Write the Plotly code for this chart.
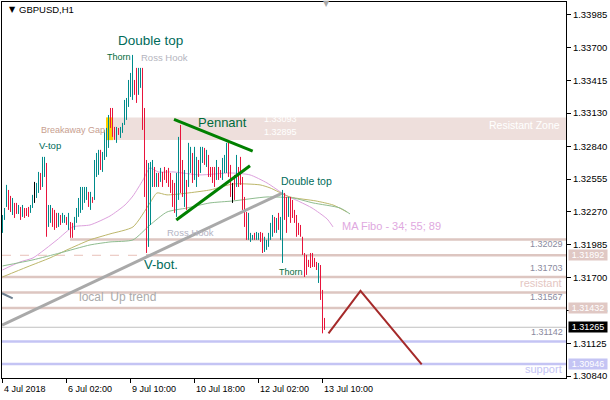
import plotly.graph_objects as go

# ---------------- data ----------------
high = [1.32243, 1.32304, 1.32505, 1.32461, 1.32409, 1.32391, 1.32348, 1.32348, 1.32330, 1.32313,
        1.32330, 1.32304, 1.32304, 1.32313, 1.32330, 1.32418, 1.32531, 1.32522, 1.32618, 1.32609,
        1.32749, 1.32749, 1.32696, 1.32330, 1.32330, 1.32304, 1.32287, 1.32261, 1.32261, 1.32243,
        1.32261, 1.32243, 1.32226, 1.32261, 1.32182, 1.32174, 1.32226, 1.32304, 1.32391, 1.32487,
        1.32487, 1.32487, 1.32487, 1.32444, 1.32444, 1.32400, 1.32722, 1.32783, 1.32810, 1.32810,
        1.32792, 1.32984, 1.33001, 1.33114, 1.33175, 1.33175, 1.33010, 1.33010, 1.33001, 1.33010,
        1.33045, 1.33245, 1.33262, 1.33419, 1.33480, 1.33637, 1.33419, 1.33524, 1.33524, 1.33524,
        1.33524, 1.33175, 1.32722, 1.32696, 1.32705, 1.32722, 1.32661, 1.32609, 1.32609, 1.32653,
        1.32618, 1.32661, 1.32635, 1.32653, 1.32609, 1.32548, 1.32522, 1.32609, 1.32923, 1.33027,
        1.32722, 1.32635, 1.32548, 1.32871, 1.32836, 1.32783, 1.32836, 1.32749, 1.32722, 1.32836,
        1.32836, 1.32827, 1.32810, 1.32766, 1.32661, 1.32661, 1.32661, 1.32722, 1.32661, 1.32635,
        1.32740, 1.32766, 1.32871, 1.32871, 1.32679, 1.32522, 1.32592, 1.32766, 1.32661, 1.32749,
        1.32574, 1.32400, 1.32269, 1.32261, 1.32087, 1.32069, 1.32087, 1.32095, 1.32087, 1.32095,
        1.32087, 1.32053, 1.32026, 1.32087, 1.32174, 1.32243, 1.32226, 1.32217, 1.32261, 1.32226,
        1.32461, 1.32435, 1.32400, 1.32400, 1.32400, 1.32374, 1.32287, 1.32243, 1.32174, 1.32156,
        1.32053, 1.31912, 1.31895, 1.31852, 1.31912, 1.31912, 1.31869, 1.31834, 1.31825, 1.31807,
        1.31590, 1.31346]

low = [1.32087, 1.32200, 1.32313, 1.32287, 1.32269, 1.32243, 1.32217, 1.32252, 1.32252, 1.32200,
       1.32226, 1.32217, 1.32234, 1.32226, 1.32261, 1.32304, 1.32348, 1.32391, 1.32435, 1.32461,
       1.32487, 1.32574, 1.32053, 1.32139, 1.32174, 1.32139, 1.32113, 1.32130, 1.32139, 1.32156,
       1.32174, 1.32174, 1.32156, 1.32113, 1.32044, 1.32044, 1.32113, 1.32174, 1.32226, 1.32261,
       1.32287, 1.32348, 1.32374, 1.32313, 1.32287, 1.32348, 1.32374, 1.32574, 1.32592, 1.32635,
       1.32618, 1.32722, 1.32749, 1.32827, 1.33001, 1.32923, 1.32897, 1.32871, 1.32940, 1.32914,
       1.32958, 1.33027, 1.33071, 1.33184, 1.33271, 1.33245, 1.33289, 1.33219, 1.33289, 1.33350,
       1.32984, 1.32400, 1.31912, 1.31965, 1.32156, 1.32487, 1.32487, 1.32487, 1.32487, 1.32531,
       1.32487, 1.32548, 1.32522, 1.32487, 1.32435, 1.32313, 1.32261, 1.32226, 1.32374, 1.32435,
       1.32400, 1.32313, 1.32287, 1.32487, 1.32609, 1.32522, 1.32548, 1.32487, 1.32574, 1.32609,
       1.32696, 1.32679, 1.32661, 1.32574, 1.32574, 1.32522, 1.32487, 1.32548, 1.32548, 1.32566,
       1.32548, 1.32609, 1.32609, 1.32574, 1.32400, 1.32348, 1.32374, 1.32487, 1.32487, 1.32505,
       1.32287, 1.32139, 1.32026, 1.32026, 1.32008, 1.32026, 1.32026, 1.32026, 1.32026, 1.32008,
       1.31912, 1.31921, 1.31939, 1.31965, 1.32026, 1.32053, 1.32087, 1.32087, 1.32113, 1.32026,
       1.31825, 1.32200, 1.32087, 1.32226, 1.32174, 1.32217, 1.32174, 1.32053, 1.32069, 1.32053,
       1.31895, 1.31703, 1.31721, 1.31790, 1.31781, 1.31790, 1.31790, 1.31764, 1.31651, 1.31503,
       1.31212, 1.31242]

# u = bullish bar, d = bearish bar, n = unchanged
direction = list("uuudduddud" "uddduunuud" "uuduudddud" "uududduuuu" "uuududuuud"
                 "uuuudddudu" "uuuuuudduu" "ddduuududu" "ddddddduud" "duduuduudu"
                 "ududdddudd" "uuuddndudd" "ddduuuduud" "duuuuududu" "uddudddddd"
                 "ddddddddud" "dd")

ma34_x = [0, 8.75, 15.25, 27.25, 35.25, 43.75, 53.75, 61.25, 65.25, 70.25, 73.75, 77.75,
          85.25, 98.75, 113.75, 123.75, 132.25, 141.25, 148.75, 154.75, 162.25, 165.25]
ma34_y = [1.31764, 1.31834, 1.31869, 1.32026, 1.32139, 1.32156, 1.32234, 1.32330, 1.32409,
          1.32548, 1.32653, 1.32618, 1.32618, 1.32592, 1.32609, 1.32592, 1.32522, 1.32418,
          1.32357, 1.32304, 1.32209, 1.32139]
ma55_x = [0, 12.25, 23.75, 32.25, 43.75, 53.75, 65.25, 73.75, 77.25, 82.25, 103.75, 115.25,
          128.75, 133.75, 143.75, 156.75, 165.25, 172.25]
ma55_y = [1.31703, 1.31790, 1.31869, 1.31939, 1.32026, 1.32078, 1.32139, 1.32348, 1.32435,
          1.32418, 1.32461, 1.32513, 1.32505, 1.32479, 1.32400, 1.32365, 1.32330, 1.32269]
ma89_x = [0, 15.25, 28.75, 43.75, 53.75, 65.25, 73.75, 82.25, 92.25, 103.75, 115.25, 132.25,
          145.25, 155.25, 168.75, 173.75]
ma89_y = [1.31799, 1.31852, 1.31912, 1.31982, 1.32008, 1.32026, 1.32156, 1.32269, 1.32304,
          1.32348, 1.32365, 1.32400, 1.32391, 1.32348, 1.32304, 1.32252]

x_tick_idx = [0, 32, 64, 96, 128, 160]
x_tick_text = ["4 Jul 2018", "6 Jul 02:00", "9 Jul 10:00", "10 Jul 18:00", "12 Jul 02:00", "13 Jul 10:00"]
y_tick_vals = [1.33985, 1.33700, 1.33415, 1.33130, 1.32840, 1.32555, 1.32270, 1.31985,
               1.31700, 1.31415, 1.31125, 1.30840]
y_tick_text = ["1.33985", "1.33700", "1.33415", "1.33130", "1.32840", "1.32555", "1.32270",
               "1.31985", "1.31700", "1.31415", "1.31125", "1.30840"]

zone_top, zone_bottom = 1.33093, 1.32895
gap_x = [51.75, 55.25]
ross_hook_level = 1.32029
ross_hook_start = 33.75
vbot_level = 1.31892
vbot_start = 71.75
pink_levels = [1.31703, 1.31567, 1.31432]
bid_level = 1.31265
blue_levels = [1.31142, 1.30946]

uptrend_x = [-0.25, 139.6]
uptrend_y = [1.31284, 1.32432]
old_trend_x = [-0.25, 5.1]
old_trend_y = [1.31561, 1.31517]
pennant_top_x = [85.75, 125.1]
pennant_top_y = [1.33076, 1.32800]
pennant_bot_x = [86.9, 123.75]
pennant_bot_y = [1.32199, 1.32672]
forecast_x = [163, 179, 209.6]
forecast_y = [1.31212, 1.31581, 1.30942]

# ---------------- figure ----------------
FONT = "Liberation Sans, Arial, sans-serif"
fig = go.Figure()

for xs, ys, col in [(ma34_x, ma34_y, "#DDA0DD"), (ma55_x, ma55_y, "#BDB76B"), (ma89_x, ma89_y, "#8FBC8F")]:
    fig.add_trace(go.Scatter(x=xs, y=ys, mode="lines", line=dict(color=col, width=1, shape="spline", smoothing=0.6),
                             hoverinfo="skip", showlegend=False))

colors = {"u": "#008B8B", "d": "#E8143C", "n": "#000000"}
for key, col in colors.items():
    bx, by = [], []
    for i, (h, l, dr) in enumerate(zip(high, low, direction)):
        if dr == key:
            bx += [i, i, None]
            by += [l, h, None]
    fig.add_trace(go.Scatter(x=bx, y=by, mode="lines", line=dict(color=col, width=1),
                             hoverinfo="skip", showlegend=False))

shapes = []
PINK = "#DDC6C1"
shapes.append(dict(type="rect", xref="x", yref="y", x0=gap_x[1], x1=281.75, y0=zone_bottom, y1=zone_top,
                   fillcolor="#EEDFDC", line=dict(width=0), layer="below"))
shapes.append(dict(type="rect", xref="x", yref="y", x0=gap_x[0], x1=gap_x[1], y0=zone_bottom, y1=zone_top,
                   fillcolor="#FFD200", line=dict(width=0), layer="below"))
shapes.append(dict(type="line", xref="x", yref="y", x0=ross_hook_start, x1=281.75, y0=ross_hook_level,
                   y1=ross_hook_level, line=dict(color=PINK, width=2.5), layer="below"))
shapes.append(dict(type="line", xref="x", yref="y", x0=-0.25, x1=281.75, y0=vbot_level,
                   y1=vbot_level, line=dict(color="#E8C0B8", width=1, dash="dash"), layer="below"))
shapes.append(dict(type="line", xref="x", yref="y", x0=vbot_start, x1=281.75, y0=vbot_level,
                   y1=vbot_level, line=dict(color=PINK, width=2.5), layer="below"))
for lv in pink_levels:
    shapes.append(dict(type="line", xref="x", yref="y", x0=-0.25, x1=281.75, y0=lv, y1=lv,
                       line=dict(color=PINK, width=2.5), layer="below"))
shapes.append(dict(type="line", xref="x", yref="y", x0=-0.25, x1=281.75, y0=bid_level, y1=bid_level,
                   line=dict(color="#C0C0C0", width=1), layer="below"))
for lv in blue_levels:
    shapes.append(dict(type="line", xref="x", yref="y", x0=-0.25, x1=281.75, y0=lv, y1=lv,
                       line=dict(color="#C4C4F4", width=2.5), layer="below"))
shapes.append(dict(type="line", xref="x", yref="y", x0=uptrend_x[0], x1=uptrend_x[1], y0=uptrend_y[0],
                   y1=uptrend_y[1], line=dict(color="#A9A9A9", width=3)))
shapes.append(dict(type="line", xref="x", yref="y", x0=old_trend_x[0], x1=old_trend_x[1], y0=old_trend_y[0],
                   y1=old_trend_y[1], line=dict(color="#708090", width=2)))
shapes.append(dict(type="line", xref="x", yref="y", x0=pennant_top_x[0], x1=pennant_top_x[1],
                   y0=pennant_top_y[0], y1=pennant_top_y[1], line=dict(color="#008000", width=3)))
shapes.append(dict(type="line", xref="x", yref="y", x0=pennant_bot_x[0], x1=pennant_bot_x[1],
                   y0=pennant_bot_y[0], y1=pennant_bot_y[1], line=dict(color="#008000", width=3)))
fig.update_layout(shapes=shapes)

fig.add_trace(go.Scatter(x=forecast_x, y=forecast_y, mode="lines", line=dict(color="#A52A2A", width=2),
                         hoverinfo="skip", showlegend=False))

ann = []
def txt(x, y, s, size, color, xanchor="left", xref="x", yref="y", family=FONT):
    ann.append(dict(x=x, y=y, xref=xref, yref=yref, text=s, showarrow=False, xanchor=xanchor,
                    yanchor="middle", font=dict(family=family, size=size, color=color)))

txt(0.008, 0.981, "▼", 8, "#000000", xref="paper", yref="paper", family="DejaVu Sans")
txt(0.027, 0.981, "GBPUSD,H1", 9.5, "#000000", xref="paper", yref="paper")
txt(0.5755, 0.995, "▼", 8, "#A8A8A8", xanchor="center", xref="paper", yref="paper", family="DejaVu Sans")
txt(73.75, 1.33759, "Double top", 13.5, "#006B5A", xanchor="center")
txt(58, 1.33615, "Thorn", 9, "#006B3C", xanchor="center")
txt(68.25, 1.33615, "Ross Hook", 9.5, "#B4B4BE")
txt(52.25, 1.32984, "Breakaway Gap", 9, "#C8A090", xanchor="right")
txt(23.75, 1.32844, "V-top", 9.5, "#006B5A", xanchor="center")
txt(96.75, 1.33045, "Pennant", 13, "#006B3C")
txt(138.25, 1.32535, "Double top", 10.5, "#006B5A")
txt(137.25, 1.31747, "Thorn", 9, "#006B3C")
txt(81.25, 1.32091, "Ross Hook", 9.5, "#B4B4C4")
txt(69.6, 1.31808, "V-bot.", 13, "#006B5A")
txt(37.25, 1.31525, "local\u00a0 Up trend", 12, "#ABABAB")
txt(168.75, 1.32148, "MA Fibo - 34; 55; 89", 11, "#E0A8E0")
txt(129.75, 1.33079, "1.33093", 9, "#FFFFFF")
txt(129.75, 1.32966, "1.32895", 9, "#FFFFFF")
txt(0.9935, 1.33027, "Resistant Zone", 10.5, "#FFFFFF", xanchor="right", xref="paper")
txt(0.998, 1.31991, "1.32029", 9, "#8A8A9E", xanchor="right", xref="paper")
txt(0.998, 1.31777, "1.31703", 9, "#8A8A9E", xanchor="right", xref="paper")
txt(0.996, 1.31654, "resistant", 11, "#E4C6C2", xanchor="right", xref="paper")
txt(0.998, 1.31529, "1.31567", 9, "#8A8A9E", xanchor="right", xref="paper")
txt(0.998, 1.31226, "1.31142", 9, "#8A8A9E", xanchor="right", xref="paper")
txt(0.996, 1.30898, "support", 11, "#C4C4F4", xanchor="right", xref="paper")

for v, s in zip(x_tick_idx, x_tick_text):
    ann.append(dict(x=v, y=-0.028, xref="x", yref="paper", text=s, showarrow=False, xanchor="left",
                    yanchor="middle", xshift=-1, font=dict(family=FONT, size=9, color="#000000")))

for lv, bg, s in [(1.31892, "#E0C8C4", "1.31892"), (1.31432, "#E0C8C4", "1.31432"),
                  (1.31265, "#000000", "1.31265"), (1.30946, "#C4C4F4", "1.30946")]:
    ann.append(dict(x=1.0035, y=lv, xref="paper", yref="y", text=s, showarrow=False, xanchor="left",
                    yanchor="middle", bgcolor=bg, width=38, height=10, borderpad=0, align="center",
                    font=dict(family=FONT, size=9, color="#FFFFFF")))

fig.update_layout(
    annotations=ann,
    width=610, height=400,
    margin=dict(l=2, r=44, t=2, b=22),
    paper_bgcolor="white", plot_bgcolor="white",
    xaxis=dict(range=[-0.25, 281.75], showgrid=False, zeroline=False, showline=True, mirror=True,
               linecolor="#000000", linewidth=1, ticks="outside", ticklen=4, tickcolor="#000000",
               tickvals=x_tick_idx, showticklabels=False),
    yaxis=dict(range=[1.30823, 1.34098], side="right", showgrid=False, zeroline=False, showline=True,
               mirror=True, linecolor="#000000", linewidth=1, ticks="outside", ticklen=4,
               tickcolor="#000000", tickvals=y_tick_vals, ticktext=y_tick_text,
               tickfont=dict(family=FONT, size=9.5, color="#000000")),
)

fig.write_html("out.html", config={"displayModeBar": False},
               post_script="document.body.style.margin='0';document.body.style.padding='0';")
